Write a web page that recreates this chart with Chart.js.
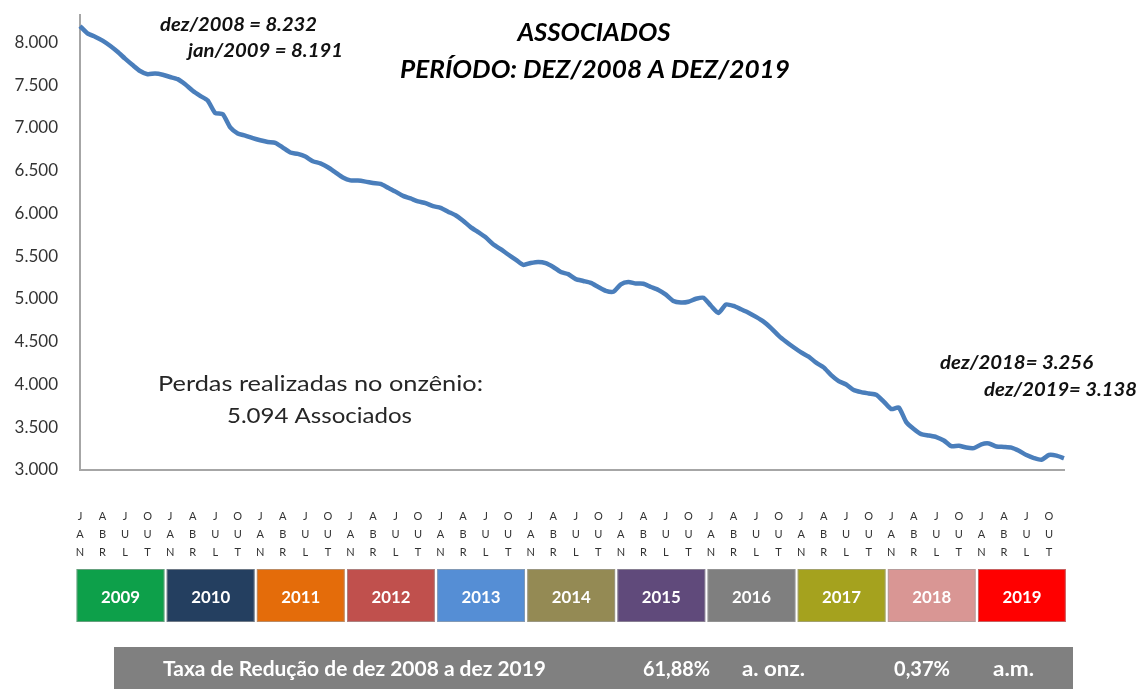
<!DOCTYPE html>
<html>
<head>
<meta charset="utf-8">
<script src="https://cdn.jsdelivr.net/npm/chart.js@4"></script>
<style>
  html,body{margin:0;padding:0;background:#fff;}
  #wrap{width:1140px;height:689px;position:relative;}
</style>
</head>
<body>
<div id="wrap"><canvas id="c" width="1140" height="689"></canvas></div>
<script>
// ---- DATA ----
const years = [2009, 2010, 2011, 2012, 2013, 2014, 2015, 2016, 2017, 2018, 2019];
const monthNames = ['jan','fev','mar','abr','mai','jun','jul','ago','set','out','nov','dez'];
const quarterTickLabels = ['JAN', 'ABR', 'JUL', 'OUT'];
const associados = [
  8191, 8105, 8066, 8020, 7960, 7890, 7810, 7735, 7665, 7628, 7636, 7622,
  7595, 7570, 7510, 7435, 7375, 7320, 7174, 7160, 7005, 6935, 6910, 6880,
  6855, 6835, 6826, 6770, 6712, 6696, 6665, 6610, 6585, 6540, 6480, 6420,
  6386, 6384, 6372, 6356, 6345, 6300, 6255, 6205, 6175, 6141, 6120, 6085,
  6065, 6020, 5978, 5915, 5840, 5782, 5720, 5640, 5582, 5520, 5460, 5398,
  5420, 5433, 5420, 5374, 5315, 5290, 5232, 5210, 5188, 5140, 5095, 5084,
  5171, 5198, 5180, 5178, 5140, 5105, 5050, 4975, 4958, 4967, 5002, 5014,
  4920, 4837, 4935, 4918, 4880, 4840, 4790, 4735, 4660, 4572, 4500, 4435,
  4375, 4325, 4255, 4200, 4110, 4040, 4000, 3935, 3910, 3895, 3880, 3800,
  3712, 3731, 3560, 3480, 3420, 3403, 3385, 3345, 3278, 3284, 3262, 3256,
  3300, 3310, 3275, 3270, 3262, 3225, 3175, 3140, 3120, 3175, 3168, 3138
];
const yTickValues = [3000, 3500, 4000, 4500, 5000, 5500, 6000, 6500, 7000, 7500, 8000];
const yTickLabels = ['3.000','3.500','4.000','4.500','5.000','5.500','6.000','6.500','7.000','7.500','8.000'];
const yearColors = ['#0DA04A','#243F60','#E46C0A','#C0504D','#558ED5','#948A54','#604A7B','#7F7F7F','#A5A21E','#D99694','#FF0000'];
const titleLines = ['ASSOCIADOS', 'PERÍODO: DEZ/2008 A DEZ/2019'];
const startNotes = ['dez/2008 = 8.232', 'jan/2009 = 8.191'];
const endNotes = ['dez/2018= 3.256', 'dez/2019= 3.138'];
const lossNotes = ['Perdas realizadas no onzênio:', '5.094 Associados'];
const rateTexts = ['Taxa de Redução de dez 2008 a dez 2019', '61,88%', 'a. onz.', '0,37%', 'a.m.'];

const categories = [];
years.forEach(y => monthNames.forEach(m => categories.push(m + '/' + y)));

// ---- helpers ----
function fitText(ctx, text, x, y, font, targetW, align, color) {
  ctx.save();
  ctx.font = font;
  ctx.fillStyle = color;
  ctx.textBaseline = 'middle';
  ctx.textAlign = 'left';
  const w = ctx.measureText(text).width;
  const sx = targetW / w;
  let left = x;
  if (align === 'center') left = x - targetW / 2;
  ctx.translate(left, y);
  ctx.scale(sx, 1);
  ctx.fillText(text, 0, 0);
  ctx.restore();
}

const decorPlugin = {
  id: 'decor',
  afterDraw(chart) {
    const ctx = chart.ctx;
    const xs = chart.scales.x;
    // titles
    fitText(ctx, titleLines[0], 594, 33, 'italic bold 24px Lato', 153, 'center', '#000');
    fitText(ctx, titleLines[1], 595, 70, 'italic bold 24px Lato', 390, 'center', '#000');
    // start notes
    fitText(ctx, startNotes[0], 160, 24.5, 'italic bold 19px Lato', 157, 'left', '#111');
    fitText(ctx, startNotes[1], 188, 51, 'italic bold 19px Lato', 155, 'left', '#111');
    // end notes
    fitText(ctx, endNotes[0], 940, 362.5, 'italic bold 19px Lato', 153, 'left', '#111');
    fitText(ctx, endNotes[1], 984, 389.5, 'italic bold 19px Lato', 153, 'left', '#111');
    // loss notes
    fitText(ctx, lossNotes[0], 158, 384, '21.5px Lato', 325, 'left', '#262626');
    fitText(ctx, lossNotes[1], 227, 416, '21.5px Lato', 185, 'left', '#262626');
    // year boxes
    const top = 569, h = 53;
    years.forEach((yr, k) => {
      const l = xs.getPixelForValue(12 * k) - 3.4;
      const r = xs.getPixelForValue(12 * k + 11) + 1.8;
      ctx.save();
      ctx.fillStyle = yearColors[k];
      ctx.fillRect(l, top, r - l, h);
      ctx.strokeStyle = 'rgba(160,160,160,0.6)';
      ctx.lineWidth = 1;
      ctx.strokeRect(l + 0.5, top + 0.5, r - l - 1, h - 1);
      ctx.restore();
      fitText(ctx, String(yr), (l + r) / 2, 597, 'bold 17.5px Lato', 39, 'center', '#fff');
    });
    // rate bar
    ctx.save();
    ctx.fillStyle = '#808080';
    ctx.fillRect(114, 647, 1073 - 114, 42);
    ctx.restore();
    fitText(ctx, rateTexts[0], 163, 669.5, 'bold 20.5px Lato', 383, 'left', '#fff');
    fitText(ctx, rateTexts[1], 643, 669.5, 'bold 20.5px Lato', 67, 'left', '#fff');
    fitText(ctx, rateTexts[2], 742, 669.5, 'bold 20.5px Lato', 63, 'left', '#fff');
    fitText(ctx, rateTexts[3], 894, 669.5, 'bold 20.5px Lato', 56, 'left', '#fff');
    fitText(ctx, rateTexts[4], 993, 669.5, 'bold 20.5px Lato', 41, 'left', '#fff');
  }
};

new Chart(document.getElementById('c'), {
  type: 'line',
  data: {
    labels: categories,
    datasets: [{
      data: associados,
      borderColor: '#4A7EBB',
      borderWidth: 4.5,
      pointRadius: 0,
      tension: 0.2,
      fill: false
    }]
  },
  options: {
    responsive: false,
    animation: false,
    devicePixelRatio: 1,
    layout: { padding: { top: 15, right: 76, left: 0, bottom: 0 } },
    plugins: { legend: { display: false }, tooltip: { enabled: false }, title: { display: false } },
    scales: {
      x: {
        type: 'category',
        offset: false,
        grid: { display: false, drawTicks: false },
        border: { display: true, color: '#A6A6A6', width: 2 },
        ticks: {
          autoSkip: false,
          maxRotation: 0,
          minRotation: 0,
          padding: 38,
          color: '#333333',
          font: { family: 'Lato', size: 11, lineHeight: 1.6 },
          callback: function (value, index) {
            if (index % 3 !== 0) return '';
            return quarterTickLabels[(index / 3) % 4].split('');
          }
        },
        afterFit: function (scale) {
          scale.height = 219;
          scale.paddingLeft = 0; scale.paddingRight = 0;
          scale.paddingTop = 0; scale.paddingBottom = 0;
        }
      },
      y: {
        min: 3000,
        max: 8320,
        grid: { display: false, drawTicks: false },
        border: { display: true, color: '#A6A6A6', width: 2 },
        ticks: {
          padding: 22,
          color: '#333333',
          font: { family: 'Lato', size: 17 },
          callback: function (value) {
            const i = yTickValues.indexOf(value);
            return i >= 0 ? yTickLabels[i] : '';
          }
        },
        afterBuildTicks: function (scale) {
          scale.ticks = yTickValues.map(v => ({ value: v }));
        },
        afterFit: function (scale) {
          scale.width = 80;
          scale.paddingLeft = 0; scale.paddingRight = 0;
          scale.paddingTop = 0; scale.paddingBottom = 0;
        }
      }
    }
  },
  plugins: [decorPlugin]
});
</script>
</body>
</html>
